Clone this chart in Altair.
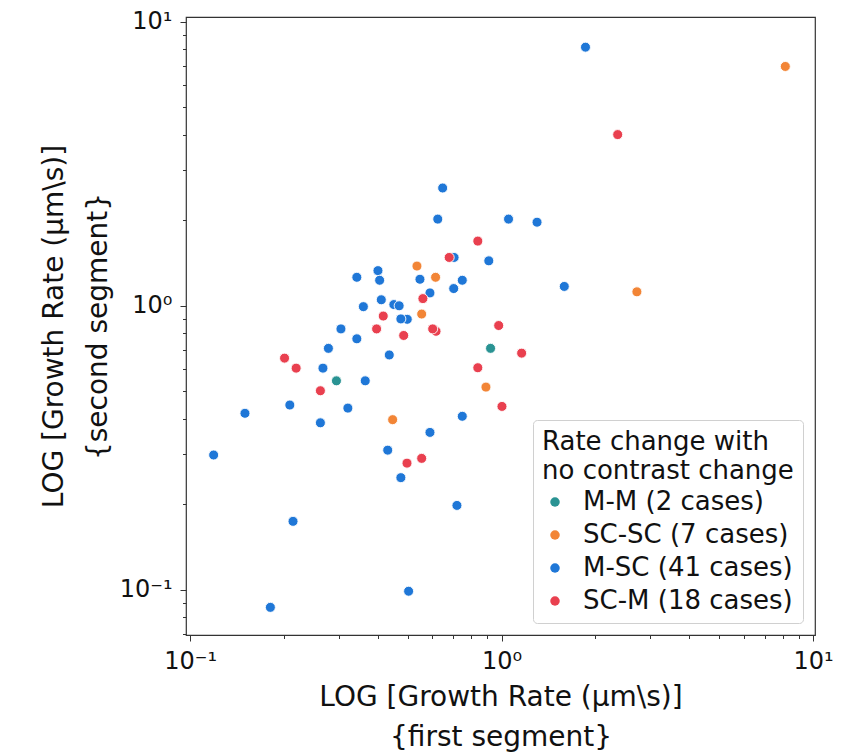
import altair as alt
import pandas as pd

groups = ["M-M (2 cases)", "SC-SC (7 cases)", "M-SC (41 cases)", "SC-M (18 cases)"]
colors = ["#2a9393", "#f28536", "#1f77d7", "#e9404f"]

# M-SC (blue)
msc_x = [1.86, 0.647, 0.624, 1.053, 1.30, 0.704, 0.91, 0.401, 0.343, 0.406,
         0.547, 0.748, 0.702, 0.589, 1.59, 0.411, 0.360, 0.451, 0.469, 0.498,
         0.475, 0.305, 0.343, 0.278, 0.436, 0.267, 0.365, 0.209, 0.150, 0.321,
         0.262, 0.748, 0.589, 0.119, 0.431, 0.475, 0.719, 0.214, 0.503, 0.181]
msc_y = [8.15, 2.60, 2.02, 2.02, 1.97, 1.48, 1.44, 1.33, 1.26, 1.23,
         1.24, 1.23, 1.15, 1.11, 1.17, 1.05, 0.993, 1.01, 1.00, 0.896,
         0.899, 0.829, 0.765, 0.708, 0.671, 0.603, 0.544, 0.447, 0.418, 0.436,
         0.387, 0.408, 0.358, 0.298, 0.310, 0.248, 0.198, 0.174, 0.0987, 0.0866]

# M-M (teal)
mm_x = [0.922, 0.295]
mm_y = [0.708, 0.544]

# SC-SC (orange)
scsc_x = [8.15, 2.72, 0.535, 0.614, 0.554, 0.891, 0.447]
scsc_y = [6.97, 1.12, 1.38, 1.26, 0.935, 0.517, 0.397]

# SC-M (red)
scm_x = [2.36, 0.839, 0.679, 0.559, 0.417, 0.397, 0.485, 0.616, 0.601,
         0.979, 1.16, 0.839, 0.201, 0.219, 0.262, 1.003, 0.497, 0.554]
scm_y = [4.01, 1.69, 1.48, 1.06, 0.920, 0.829, 0.786, 0.813, 0.829,
         0.852, 0.681, 0.605, 0.654, 0.603, 0.502, 0.442, 0.279, 0.290]

x_major = [0.1, 1, 10]
x_minor = [0.2, 0.3, 0.4, 0.5, 0.6, 0.7, 0.8, 0.9, 2, 3, 4, 5, 6, 7, 8, 9]
y_major = [0.1, 1, 10]
y_minor = [0.07, 0.08, 0.09, 0.2, 0.3, 0.4, 0.5, 0.6, 0.7, 0.8, 0.9, 2, 3, 4, 5, 6, 7, 8, 9]
major_labels = ["10⁻¹", "10⁰", "10¹"]

rows = []
for xs, ys, g in [(msc_x, msc_y, groups[2]), (mm_x, mm_y, groups[0]),
                  (scsc_x, scsc_y, groups[1]), (scm_x, scm_y, groups[3])]:
    for a, b in zip(xs, ys):
        rows.append({"x": a, "y": b, "group": g})
df = pd.DataFrame(rows)

label_expr = ("datum.value == 0.1 ? '%s' : datum.value == 1 ? '%s' : datum.value == 10 ? '%s' : ''"
              % tuple(major_labels))
tick_size = {"condition": {"test": "indexof([0.1, 1, 10], datum.value) >= 0", "value": 6}, "value": 3.5}

FONT = "DejaVu Sans"

x_axis = alt.Axis(
    values=x_major + x_minor, labelExpr=label_expr, tickSize=tick_size,
    title=["LOG [Growth Rate (μm\\s)]", "{first segment}"],
    titleFontSize=28, titleLineHeight=40, titleFontWeight="normal", titleFont=FONT,
    titleColor="#111", titlePadding=10, labelFont=FONT, labelFontSize=24,
    labelColor="#111", labelPadding=8, grid=False, domain=False,
    tickColor="#333", labelFlush=False, labelOverlap=False,
)
y_axis = alt.Axis(
    values=y_major + y_minor, labelExpr=label_expr, tickSize=tick_size,
    title=["LOG [Growth Rate (μm\\s)]", "{second segment}"],
    titleFontSize=28, titleLineHeight=44, titleFontWeight="normal", titleFont=FONT,
    titleColor="#111", titlePadding=7, labelFont=FONT, labelFontSize=24,
    labelColor="#111", labelPadding=8, grid=False, domain=False,
    tickColor="#333", labelFlush=False, labelOverlap=False,
)

legend = alt.Legend(
    title=["Rate change with", "no contrast change"], orient="none",
    legendX=347, legendY=403, padding=9, strokeColor="#d0d0d0", cornerRadius=4,
    fillColor="white", titleFont=FONT, titleFontSize=26, titleFontWeight="normal",
    titleColor="#111", titleLineHeight=29, titlePadding=5, titleLimit=500,
    labelFont=FONT, labelFontSize=26, labelColor="#111", labelLimit=500,
    symbolType="circle", symbolSize=90, symbolStrokeWidth=0, symbolOffset=0,
    labelOffset=15, rowPadding=7,
)

chart = alt.Chart(df).mark_circle(size=100, opacity=1, stroke="white", strokeWidth=0.9).encode(
    x=alt.X("x:Q", scale=alt.Scale(type="log", domain=[0.097, 10.15], nice=False), axis=x_axis),
    y=alt.Y("y:Q", scale=alt.Scale(type="log", domain=[0.0692, 10.41], nice=False), axis=y_axis),
    color=alt.Color("group:N", scale=alt.Scale(domain=groups, range=colors), legend=legend),
).properties(
    width=629, height=618,
    autosize=alt.AutoSizeParams(type="none"),
    padding={"left": 178, "top": 9, "right": 41, "bottom": 120},
).configure_view(stroke="#333", strokeWidth=1.2)

chart.save("out.html", embed_options={"renderer": "svg", "actions": False})
